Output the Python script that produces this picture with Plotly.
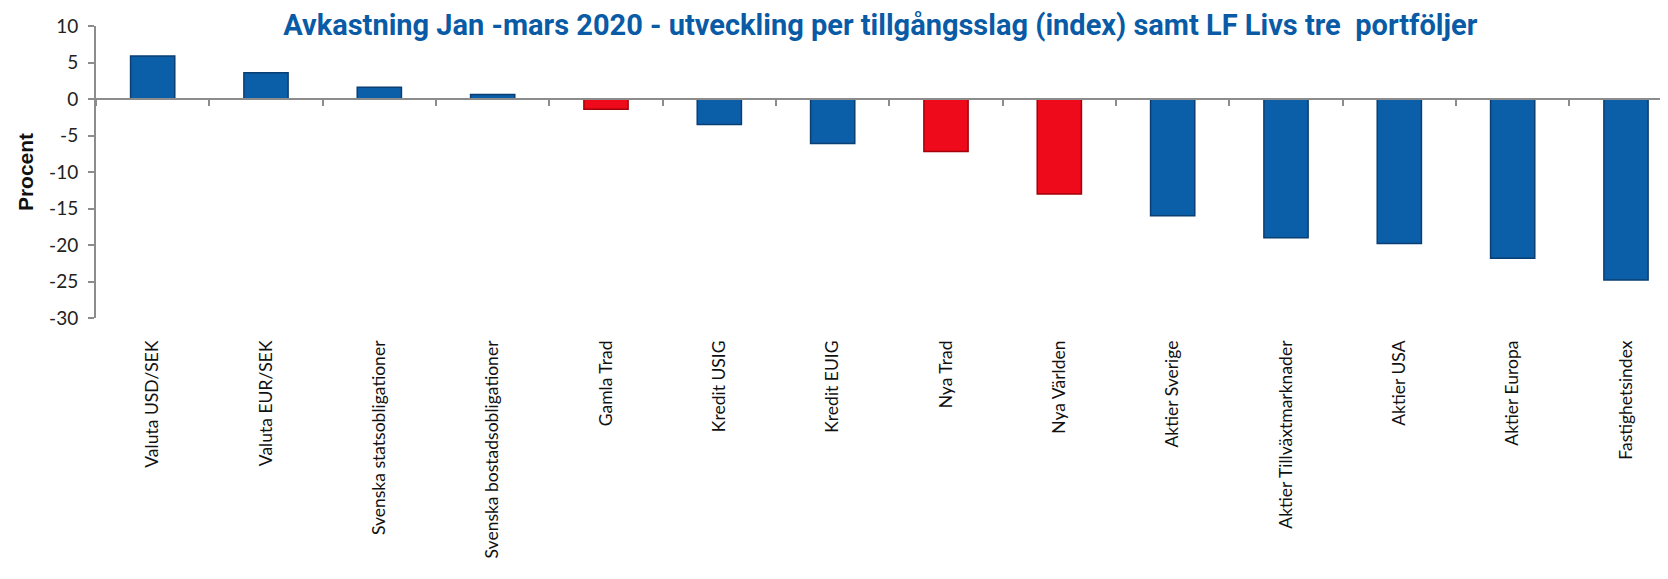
import plotly.graph_objects as go

categories = ["Valuta USD/SEK", "Valuta EUR/SEK", "Svenska statsobligationer",
              "Svenska bostadsobligationer", "Gamla Trad", "Kredit USIG", "Kredit EUIG",
              "Nya Trad", "Nya Världen", "Aktier Sverige", "Aktier Tillväxtmarknader",
              "Aktier USA", "Aktier Europa", "Fastighetsindex"]
values = [5.9, 3.6, 1.6, 0.6, -1.4, -3.5, -6.1, -7.2, -13.0, -16.0, -19.0, -19.8, -21.8, -24.8]
is_portfolio = [False, False, False, False, True, False, False, True, True,
                False, False, False, False, False]
y_ticks = [10, 5, 0, -5, -10, -15, -20, -25, -30]

BLUE = "#0b5ea8"
BLUE_EDGE = "#0a3f73"
RED = "#ee0a1a"
RED_EDGE = "#a3000c"

colors = [RED if p else BLUE for p in is_portfolio]
edges = [RED_EDGE if p else BLUE_EDGE for p in is_portfolio]

fig = go.Figure()
fig.add_trace(go.Bar(
    x=categories, y=values, width=0.39,
    marker=dict(color=colors, line=dict(color=edges, width=1.5)),
    showlegend=False, hoverinfo="x+y",
))
# invisible trace to carry the category labels at the bottom of the plot
fig.add_trace(go.Scatter(
    x=categories, y=values, xaxis="x2", mode="markers",
    marker=dict(opacity=0), showlegend=False, hoverinfo="skip",
))

xr = [-0.5, 13.30]
fig.update_layout(
    width=1652, height=563,
    margin=dict(l=88, r=0, t=18, b=253),
    paper_bgcolor="white", plot_bgcolor="white",
    title=dict(
        text="<b>Avkastning Jan -mars 2020 - utveckling per tillgångsslag (index) samt LF Livs tre  portföljer</b>",
        x=0.528, xanchor="center", y=0.9707, yanchor="middle",
        font=dict(family="Roboto", size=29, color="#0a5ba5"),
    ),
    xaxis=dict(
        type="category", range=xr, anchor="free", position=0.75,
        showline=True, linecolor="#8c8c8c", linewidth=2,
        ticks="outside", tickson="boundaries", ticklen=6, tickwidth=2, tickcolor="#8c8c8c",
        showticklabels=False, showgrid=False, zeroline=False,
    ),
    xaxis2=dict(
        type="category", range=xr, overlaying="x", anchor="y", side="bottom",
        showline=False, ticks="", showgrid=False, zeroline=False,
        tickangle=-90, ticklabelstandoff=18,
        tickfont=dict(family="Lato", size=17.5, color="#111111"),
    ),
    yaxis=dict(
        range=[-30, 10], tickvals=y_ticks, ticktext=[str(v) for v in y_ticks],
        showline=True, linecolor="#8c8c8c", linewidth=2,
        ticks="outside", ticklen=6, tickwidth=2, tickcolor="#8c8c8c",
        ticklabelstandoff=6,
        tickfont=dict(family="Lato", size=19, color="#222222"),
        showgrid=False, zeroline=False,
        title=dict(text="<b>Procent</b>", standoff=10,
                   font=dict(family="Liberation Sans", size=21, color="#111111")),
    ),
)

fig.write_html("out.html")
